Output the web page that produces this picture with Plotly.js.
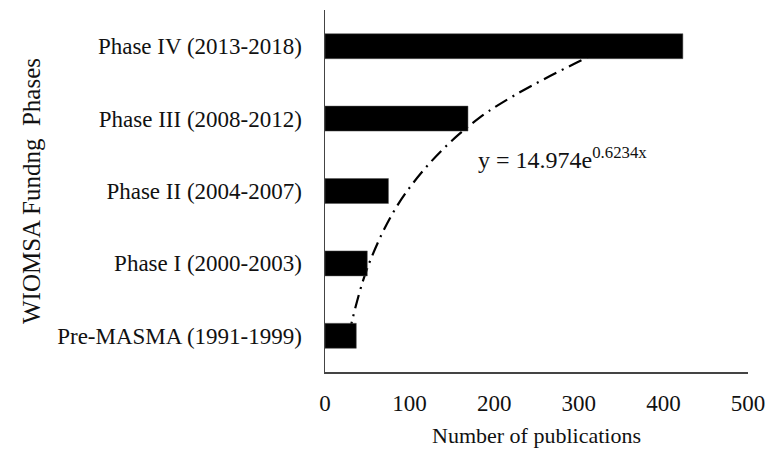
<!DOCTYPE html>
<html>
<head>
<meta charset="utf-8">
<script src="https://cdn.plot.ly/plotly-3.0.1.min.js"></script>
<style>html,body{margin:0;padding:0;background:#fff;}#chart{width:780px;height:455px;}</style>
</head>
<body>
<div id="chart"></div>
<script>
const phases = ["Pre-MASMA (1991-1999)", "Phase I (2000-2003)", "Phase II (2004-2007)", "Phase III (2008-2012)", "Phase IV (2013-2018)"];
const publications = [37, 50, 75, 169, 423];
const trendValues = [27.9, 52.1, 97.1, 181.2, 338.0];
const xTicks = [0, 100, 200, 300, 400, 500];
const equationText = "y = 14.974e<sup>0.6234x</sup>";

const FONT = "Liberation Serif, Times New Roman, serif";

const traces = [
  {
    type: "scatter", mode: "lines",
    x: trendValues, y: phases,
    xaxis: "x", yaxis: "y",
    line: {color: "#000", width: 2.2, dash: "14px,6px,2px,6px", shape: "spline"},
    hoverinfo: "skip", showlegend: false
  },
  {
    type: "bar", orientation: "h",
    x: publications, y: phases,
    xaxis: "x", yaxis: "y2",
    marker: {color: "#000", line: {color: "#555", width: 0.5}},
    showlegend: false
  }
];

const layout = {
  width: 780, height: 455,
  margin: {l: 325, r: 32, t: 10, b: 83},
  paper_bgcolor: "#fff", plot_bgcolor: "#fff",
  font: {family: FONT, color: "#111", size: 23},
  bargap: 0.655,
  showlegend: false,
  xaxis: {
    range: [0, 500], tickvals: xTicks, ticktext: xTicks.map(String),
    showgrid: false, zeroline: false, showline: true, linecolor: "#444", linewidth: 1.5,
    ticks: "", ticklabelstandoff: 10,
    tickfont: {family: FONT, size: 23, color: "#111"},
    title: {text: "Number of publications", font: {family: FONT, size: 22, color: "#111"}, standoff: 12}
  },
  yaxis: {
    type: "category", categoryorder: "array", categoryarray: phases, range: [-0.5, 4.5],
    showgrid: false, zeroline: false, showline: true, linecolor: "#444", linewidth: 1.5,
    ticks: "", ticklabelstandoff: 17,
    tickfont: {family: FONT, size: 23, color: "#111"},
    title: {text: "WIOMSA Fundng&nbsp;&nbsp;Phases", font: {family: FONT, size: 25, color: "#111"}, standoff: 9}
  },
  yaxis2: {
    type: "category", categoryorder: "array", categoryarray: phases, range: [-0.5, 4.5],
    overlaying: "y", visible: false, showgrid: false, zeroline: false
  },
  annotations: [{
    text: equationText, xref: "x", yref: "paper", x: 179, y: 0.59,
    xanchor: "left", yanchor: "middle", showarrow: false,
    font: {family: FONT, size: 24, color: "#111"}
  }]
};

Plotly.newPlot("chart", traces, layout, {displayModeBar: false, staticPlot: true});
</script>
</body>
</html>
